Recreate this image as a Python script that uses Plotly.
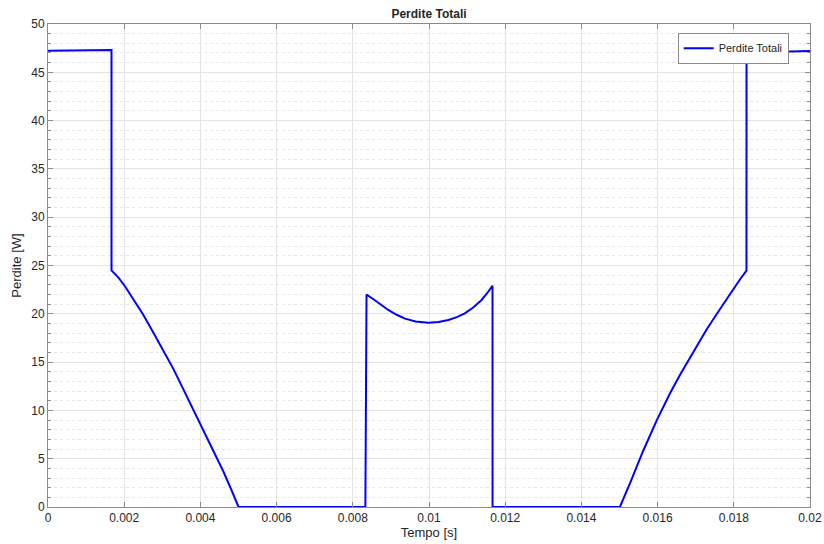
import plotly.graph_objects as go

# Time [s] and total losses [W]
tempo = [0.0, 0.0016667, 0.0016668, 0.00185, 0.00202, 0.00224, 0.0025, 0.00276, 0.00303,
         0.00329, 0.00355, 0.00381, 0.00408, 0.00434, 0.0046, 0.0048, 0.005,
         0.00833, 0.00836, 0.00858, 0.00893, 0.00915, 0.00937, 0.00965, 0.00998,
         0.01025, 0.01051, 0.01073, 0.01094, 0.01116, 0.01138, 0.01152, 0.011667, 0.011668,
         0.01501, 0.01528, 0.01562, 0.01598, 0.01633, 0.01659, 0.01694,
         0.01729, 0.01764, 0.01799, 0.01817, 0.018333, 0.018334, 0.02]
perdite = [47.22, 47.31, 24.5, 23.75, 22.85, 21.55, 19.9, 18.1, 16.2,
           14.3, 12.2, 10.1, 7.9, 5.8, 3.7, 1.9, 0.0,
           0.0, 22.0, 21.4, 20.4, 19.9, 19.5, 19.2, 19.08,
           19.15, 19.36, 19.65, 20.05, 20.65, 21.43, 22.1, 22.9, 0.0,
           0.0, 2.5, 5.8, 9.0, 11.8, 13.7, 16.1,
           18.4, 20.5, 22.6, 23.6, 24.46, 47.05, 47.2]

x_ticks = [0, 0.002, 0.004, 0.006, 0.008, 0.01, 0.012, 0.014, 0.016, 0.018, 0.02]
x_labels = ["0", "0.002", "0.004", "0.006", "0.008", "0.01", "0.012", "0.014", "0.016", "0.018", "0.02"]
y_ticks = [0, 5, 10, 15, 20, 25, 30, 35, 40, 45, 50]

FONT = "Liberation Sans, Arial, Helvetica, sans-serif"

fig = go.Figure()
fig.add_trace(go.Scatter(x=tempo, y=perdite, mode="lines", name="Perdite Totali",
                         line=dict(color="#0000ff", width=2)))

axis_common = dict(showline=True, linecolor="#8a8a8a", linewidth=1, mirror="ticks",
                   ticks="inside", ticklen=5, tickcolor="#8a8a8a", automargin=False,
                   showgrid=True, gridcolor="#e3e3e3", gridwidth=1, zeroline=False,
                   tickfont=dict(family=FONT, size=12, color="#262626"))

fig.update_layout(
    width=824, height=544,
    margin=dict(l=48, r=14, t=24, b=37),
    paper_bgcolor="white", plot_bgcolor="white",
    font=dict(family=FONT, size=12, color="#262626"),
    title=dict(text="<b>Perdite Totali</b>", x=0.5, xref="paper", y=1 - 14 / 544,
               yanchor="middle", font=dict(family=FONT, size=12, color="#262626")),
    showlegend=True,
    legend=dict(x=0.972, y=0.982, xanchor="right", yanchor="top",
                bgcolor="white", bordercolor="#8a8a8a", borderwidth=1,
                font=dict(family=FONT, size=11, color="#262626"),
                tracegroupgap=0, itemwidth=30),
)
fig.update_xaxes(range=[0, 0.02], tickvals=x_ticks, ticktext=x_labels,
                 title=dict(text="Tempo [s]", standoff=2, font=dict(family=FONT, size=13)),
                 **axis_common)
fig.update_yaxes(range=[0, 50], tickvals=y_ticks,
                 title=dict(text="Perdite [W]", standoff=6, font=dict(family=FONT, size=13)),
                 minor=dict(dtick=1, showgrid=True, griddash="dot", gridcolor="#e6e6e6",
                            ticks="inside", ticklen=3, tickcolor="#8a8a8a"),
                 **axis_common)

fig.write_html("out.html", config={"displayModeBar": False},
               post_script="document.body.style.margin='0px';document.body.style.padding='0px';")
